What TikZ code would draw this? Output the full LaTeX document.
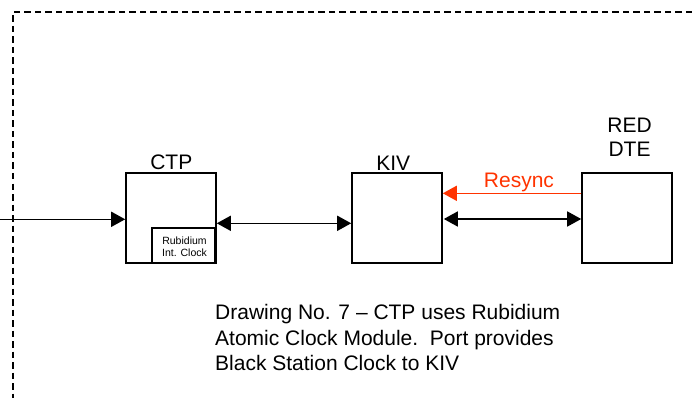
\documentclass[tikz,border=0pt]{standalone}
\usepackage{fontspec}
\setmainfont{Liberation Sans}
\usetikzlibrary{arrows.meta}
\definecolor{resync}{RGB}{255,51,0}
\tikzset{
  unit/.style={draw, line width=1.6pt, minimum width=90pt, minimum height=90pt, inner sep=0pt},
  clockbox/.style={draw, line width=1.6pt, minimum width=63pt, minimum height=35pt, inner sep=0pt},
  lbl/.style={font=\fontsize{21}{24.5}\selectfont, inner sep=0pt, anchor=base, align=center},
  small/.style={font=\fontsize{10.5}{12.7}\selectfont, inner sep=0pt, anchor=base},
  conn/.style={line width=1.6pt, -{Triangle[length=14pt,width=15pt]}},
  biconn/.style={line width=1.6pt, {Triangle[length=14pt,width=15pt]}-{Triangle[length=14pt,width=15pt]}},
  frame/.style={line width=1.4pt, dash pattern=on 6.5pt off 4pt},
}
\begin{document}
\begin{tikzpicture}[x=1pt,y=-1pt]
\path[use as bounding box] (0,0) rectangle (692,398);
\draw[frame] (692,12) -- (13,12) -- (13,398);
\node[unit] (ctp) at (171,218) {};
\node[clockbox] (clock) at (183.5,245.5) {};
\node[unit] (kiv) at (397,218) {};
\node[unit] (red) at (627,218) {};
\node[lbl] (ctpl) at (171.3,169.3) {CTP};
\node[lbl] (kivl) at (393.3,170) {KIV};
\node[lbl] (redl) at (629.5,156.7) {RED\\DTE};
\node[small] (rb1) at (184.5,244) {Rubidium};
\node[small] (rb2) at (184.5,256.7) {Int. Clock};
\coordinate (in) at (0,219.3);
\draw[conn] (in) -- (in -| ctp.west);
\draw[biconn] ([yshift=-5.3pt]ctp.east) -- ([yshift=-5.3pt]kiv.west);
\draw[conn, draw=resync, fill=resync] ([yshift=24.7pt]red.west) -- ([yshift=24.7pt]kiv.east) node[pos=0.45, lbl, text=resync, anchor=base, yshift=6pt] (rs) {Resync};
\draw[biconn] ([yshift=-1pt,xshift=1pt]kiv.east) -- ([yshift=-1pt]red.west);
\node[font=\fontsize{21}{25.7}\selectfont, inner sep=0pt, anchor=base west, align=left] (note) at (215,370.7) {Drawing No. 7 -- CTP uses Rubidium\\Atomic Clock Module.\ \ Port provides\\Black Station Clock to KIV};
\end{tikzpicture}
\end{document}
